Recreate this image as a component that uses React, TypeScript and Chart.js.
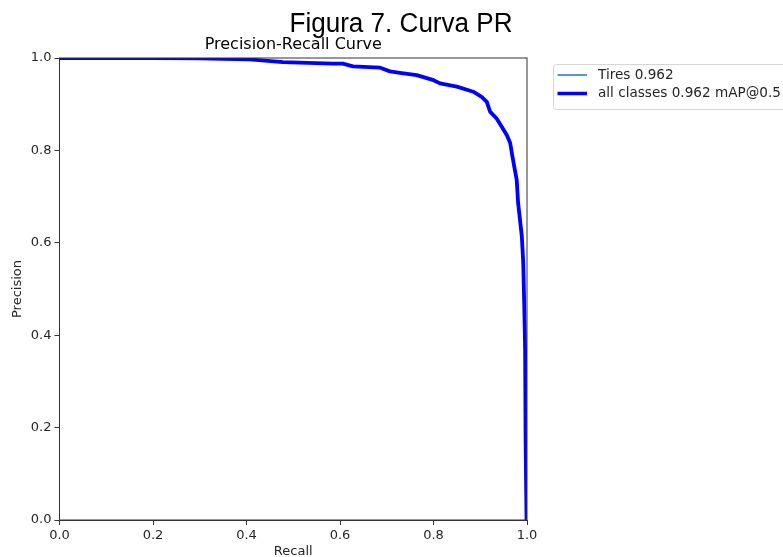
import React, { useEffect, useRef } from "react";
import { Chart, registerables } from "chart.js";

Chart.register(...registerables);

const mainTitle = "Figura 7. Curva PR";
const subTitle = "Precision-Recall Curve";
const xAxisLabel = "Recall";
const yAxisLabel = "Precision";
const seriesLabels = ["Tires 0.962", "all classes 0.962 mAP@0.5"];
const seriesColors = ["#1f77b4", "#0000ff"];
const seriesWidths = [1.2, 3.8];

const tickValues = [0, 0.2, 0.4, 0.6, 0.8, 1.0];
const tickLabels = ["0.0", "0.2", "0.4", "0.6", "0.8", "1.0"];

const recallValues = [
  0.0, 0.1, 0.2, 0.3, 0.35, 0.407, 0.478, 0.585, 0.606, 0.628, 0.686, 0.707,
  0.728, 0.764, 0.8, 0.814, 0.85, 0.885, 0.903, 0.914, 0.921, 0.935, 0.946,
  0.957, 0.964, 0.969, 0.974, 0.978, 0.981, 0.989, 0.992, 0.994, 0.996, 0.997,
  0.999,
];
const precisionValues = [
  1.0, 1.0, 1.0, 0.999, 0.998, 0.997, 0.991, 0.988, 0.988, 0.982, 0.979, 0.971,
  0.968, 0.963, 0.952, 0.945, 0.938, 0.927, 0.916, 0.905, 0.884, 0.869, 0.851,
  0.833, 0.816, 0.786, 0.758, 0.736, 0.686, 0.613, 0.556, 0.47, 0.368, 0.173,
  0.0,
];

const FONT = "'DejaVu Sans', sans-serif";
const TEXT = "#262626";
const SPINE = "#333333";

const framePlugin = {
  id: "frameAndTitles",
  afterDraw(chart: any) {
    const { ctx, chartArea } = chart;
    const { left, right, top, bottom } = chartArea;
    ctx.save();
    // spines
    ctx.strokeStyle = SPINE;
    ctx.lineWidth = 1;
    ctx.strokeRect(left, top, right - left, bottom - top);

    // subtitle (axes title)
    ctx.fillStyle = "#000";
    ctx.font = `16px ${FONT}`;
    ctx.textAlign = "center";
    ctx.textBaseline = "alphabetic";
    ctx.fillText(subTitle, (left + right) / 2, top - 9.5);

    // main title
    ctx.save();
    ctx.translate(401, 32);
    ctx.scale(0.965, 1);
    ctx.font = `27px 'Liberation Sans', Arial, sans-serif`;
    ctx.fillStyle = "#000";
    ctx.textAlign = "center";
    ctx.fillText(mainTitle, 0, 0);
    ctx.restore();

    // legend
    const bx = 553.5;
    const by = 64.5;
    const bw = 300;
    const bh = 45;
    const r = 3;
    ctx.beginPath();
    ctx.moveTo(bx + r, by);
    ctx.lineTo(bx + bw, by);
    ctx.lineTo(bx + bw, by + bh);
    ctx.lineTo(bx + r, by + bh);
    ctx.arcTo(bx, by + bh, bx, by + bh - r, r);
    ctx.lineTo(bx, by + r);
    ctx.arcTo(bx, by, bx + r, by, r);
    ctx.closePath();
    ctx.fillStyle = "rgba(255,255,255,0.8)";
    ctx.fill();
    ctx.strokeStyle = "#d6d6d6";
    ctx.lineWidth = 1;
    ctx.stroke();

    const rows = [75, 93.5];
    chart.data.datasets.forEach((ds: any, i: number) => {
      const y = rows[i];
      ctx.beginPath();
      ctx.moveTo(557.5, y);
      ctx.lineTo(587, y);
      ctx.strokeStyle = ds.borderColor;
      ctx.lineWidth = i === 0 ? 1.5 : 3.5;
      ctx.stroke();
      ctx.fillStyle = TEXT;
      ctx.font = `13.6px ${FONT}`;
      ctx.textAlign = "left";
      ctx.textBaseline = "middle";
      ctx.fillText(ds.label, 598, y);
    });
    ctx.restore();
  },
};

export default function App() {
  const ref = useRef<HTMLCanvasElement>(null);

  useEffect(() => {
    if (!ref.current) return;
    const points = recallValues.map((x, i) => ({ x, y: precisionValues[i] }));
    const datasets = seriesLabels.map((label, i) => ({
      label,
      data: points,
      borderColor: seriesColors[i],
      backgroundColor: seriesColors[i],
      borderWidth: seriesWidths[i],
      pointRadius: 0,
      tension: 0,
      fill: false,
      borderJoinStyle: "round" as const,
      borderCapStyle: "round" as const,
      order: i === 0 ? 1 : 0,
    }));

    const tickCallback = (v: any) => {
      const idx = tickValues.findIndex((t) => Math.abs(t - Number(v)) < 1e-6);
      return idx >= 0 ? tickLabels[idx] : "";
    };

    const chart = new Chart(ref.current, {
      type: "line",
      data: { datasets },
      plugins: [framePlugin],
      options: {
        animation: false,
        responsive: false,
        devicePixelRatio: 1,
        layout: { padding: { top: 58, right: 256, bottom: 0, left: 0 } },
        plugins: {
          legend: { display: false },
          tooltip: { enabled: false },
          title: { display: false },
        },
        scales: {
          x: {
            type: "linear",
            min: 0,
            max: 1,
            afterBuildTicks: (scale: any) => {
              scale.ticks = tickValues.map((v) => ({ value: v }));
            },
            afterFit: (scale: any) => {
              scale.height = 37;
            },
            ticks: {
              callback: tickCallback,
              font: { family: FONT, size: 13 },
              color: TEXT,
              padding: 3,
              maxRotation: 0,
              autoSkip: false,
            },
            grid: {
              drawOnChartArea: false,
              drawTicks: true,
              tickLength: 5,
              tickColor: SPINE,
              color: SPINE,
            },
            border: { display: true, color: SPINE },
            title: {
              display: true,
              text: xAxisLabel,
              font: { family: FONT, size: 13 },
              color: TEXT,
              padding: { top: 0, bottom: -2.5 },
            },
          },
          y: {
            type: "linear",
            min: 0,
            max: 1,
            afterBuildTicks: (scale: any) => {
              scale.ticks = tickValues.map((v) => ({ value: v }));
            },
            afterFit: (scale: any) => {
              scale.width = 59.5;
            },
            ticks: {
              callback: tickCallback,
              font: { family: FONT, size: 13 },
              color: TEXT,
              padding: 3,
              autoSkip: false,
            },
            grid: {
              drawOnChartArea: false,
              drawTicks: true,
              tickLength: 5,
              tickColor: SPINE,
              color: SPINE,
            },
            border: { display: true, color: SPINE },
            title: {
              display: true,
              text: yAxisLabel,
              font: { family: FONT, size: 13 },
              color: TEXT,
              padding: { top: 9.5, bottom: 0 },
            },
          },
        },
      },
    });
    return () => chart.destroy();
  }, []);

  return (
    <div style={{ position: "absolute", left: 0, top: 0, width: 783, height: 557, background: "#fff" }}>
      <canvas ref={ref} width={783} height={557} style={{ display: "block" }} />
    </div>
  );
}
